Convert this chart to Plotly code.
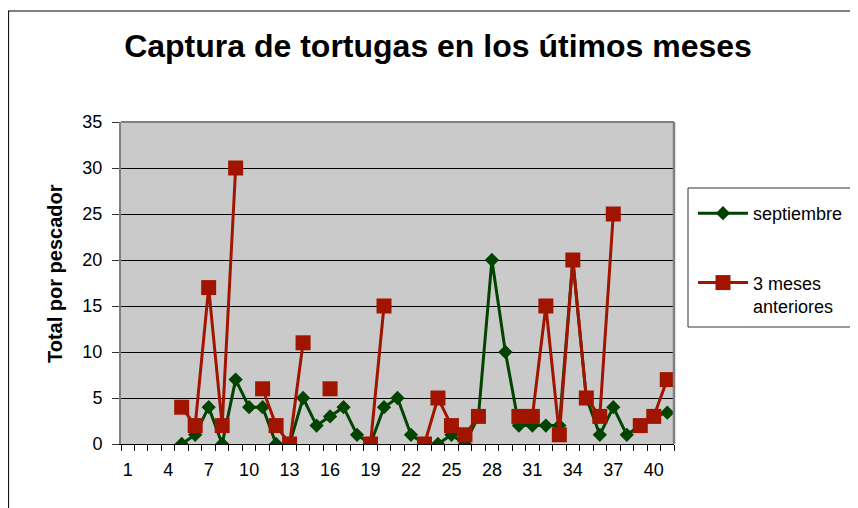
import plotly.graph_objects as go

# ---- data ----
categories = list(range(1, 42))
septiembre = [None, None, None, None,
              0, 1, 4, 0, 7, 4, 4, 0, 0, 5, 2, 3, 4, 1, 0, 4,
              5, 1, 0, 0, 1, 0, 3, 20, 10, 2, 2, 2, 2, 20, 5, 1,
              4, 1, 2, 3, 3.4]
tres_meses = [None, None, None, None,
              4, 2, 17, 2, 30, None, 6, 2, 0, 11, None, 6, None, None, 0, 15,
              None, None, 0, 5, 2, 1, 3, None, None, 3, 3, 15, 1, 20, 5, 3,
              25, None, 2, 3, 7]
tick_positions = [1, 4, 7, 10, 13, 16, 19, 22, 25, 28, 31, 34, 37, 40]
tick_labels = [str(v) for v in tick_positions]
y_ticks = [0, 5, 10, 15, 20, 25, 30, 35]

title_text = "Captura de tortugas en los útimos meses"
y_title = "Total por pescador"
name_sep = "septiembre"
name_tres = "3 meses<br>anteriores"

# ---- layout constants (page body has an 8px margin) ----
OFF = 8
W, H = 858, 508
ML, MT = 121 - OFF, 122 - OFF
PW, PH = 553, 322
MR, MB = W - ML - PW, H - MT - PH
FONT = "Arial, 'Liberation Sans', sans-serif"
GREEN = "#004400"
RED = "#A01400"


def px_x(p):
    """screen pixel x (as seen in the page) -> paper coordinate"""
    return (p - OFF - ML) / PW


def px_y(p):
    """screen pixel y (as seen in the page) -> paper coordinate"""
    return (MT + PH - (p - OFF)) / PH


fig = go.Figure()
fig.add_trace(go.Scatter(
    x=categories, y=septiembre, name=name_sep, mode="lines+markers",
    line=dict(color=GREEN, width=3),
    marker=dict(symbol="diamond", size=11, color=GREEN),
    legendgroup="a", connectgaps=False))
fig.add_trace(go.Scatter(
    x=categories, y=tres_meses, name=name_tres, mode="lines+markers",
    line=dict(color=RED, width=3),
    marker=dict(symbol="square", size=15, color=RED),
    legendgroup="b", connectgaps=False))

shapes = [
    # outer chart frame (left and top edges)
    dict(type="line", xref="paper", yref="paper",
         x0=px_x(OFF + 0.6), x1=px_x(OFF + 0.6), y0=px_y(11), y1=px_y(540),
         line=dict(color="black", width=1)),
    dict(type="line", xref="paper", yref="paper",
         x0=px_x(OFF), x1=px_x(890), y0=px_y(11), y1=px_y(11),
         line=dict(color="black", width=1)),
    # plot area top and right border
    dict(type="line", xref="paper", yref="paper",
         x0=0, x1=1, y0=1, y1=1, line=dict(color="#808080", width=2)),
    dict(type="line", xref="paper", yref="paper",
         x0=1, x1=1, y0=0, y1=1, line=dict(color="#808080", width=2.5)),
    # legend box
    dict(type="rect", xref="paper", yref="paper",
         x0=px_x(688), x1=px_x(900), y0=px_y(327), y1=px_y(188),
         line=dict(color="#333333", width=1)),
]

annotations = [
    dict(text="<b>" + y_title + "</b>", xref="paper", yref="paper",
         x=px_x(55), y=px_y(274), xanchor="center", yanchor="middle",
         textangle=-90, showarrow=False,
         font=dict(family=FONT, size=20, color="black")),
]

fig.update_layout(
    width=W, height=H,
    margin=dict(l=ML, r=MR, t=MT, b=MB, pad=0),
    paper_bgcolor="white", plot_bgcolor="#CACACA",
    font=dict(family=FONT, size=18, color="black"),
    title=dict(text="<b>" + title_text + "</b>", x=(438 - OFF) / W,
               xanchor="center", y=1 - (46 - OFF) / H, yanchor="middle",
               font=dict(family=FONT, size=32, color="black")),
    showlegend=True,
    legend=dict(x=px_x(693), y=px_y(195), xanchor="left", yanchor="top",
                bgcolor="rgba(0,0,0,0)", borderwidth=0,
                font=dict(family=FONT, size=18, color="black"),
                tracegroupgap=43, itemwidth=50, valign="top",
                traceorder="grouped"),
    shapes=shapes,
    annotations=annotations,
    xaxis=dict(range=[0.5, 41.5], tickmode="array", tickvals=tick_positions,
               ticktext=tick_labels, ticks="", showgrid=False, zeroline=False,
               showline=True, linecolor="black", linewidth=1,
               ticklabelstandoff=9,
               tickfont=dict(family=FONT, size=18, color="black"),
               minor=dict(tickmode="linear", tick0=0.5, dtick=1,
                          ticks="outside", ticklen=6, tickcolor="black",
                          tickwidth=1, showgrid=False)),
    yaxis=dict(range=[0, 35], tickmode="array", tickvals=y_ticks,
               ticks="outside", ticklen=7, tickcolor="#333333", tickwidth=1,
               showgrid=True, gridcolor="black", gridwidth=1, zeroline=False,
               showline=True, linecolor="#808080", linewidth=2,
               ticklabelstandoff=6,
               tickfont=dict(family=FONT, size=18, color="black")),
)

fig.write_html("out.html")
